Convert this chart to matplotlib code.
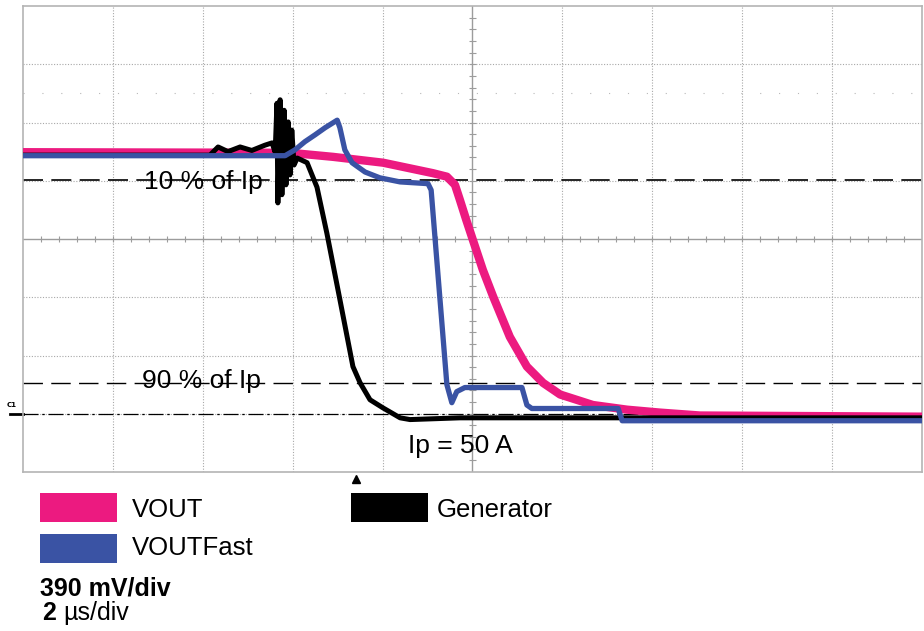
import numpy as np
import matplotlib.pyplot as plt
from matplotlib.patches import Rectangle

# время в мкс (2 мкс/дел), напряжение в делениях над землёй C1 (390 мВ/дел)
vout_t = [0.0, 5.94, 6.90, 8.01, 9.12, 9.43, 9.61, 9.72, 9.86, 10.01, 10.23, 10.46,
          10.83, 11.21, 11.57, 11.95, 12.68, 13.44, 14.17, 15.06, 20.0]
vout_v = [4.49, 4.48, 4.41, 4.31, 4.13, 4.07, 3.93, 3.67, 3.33, 2.98, 2.47, 2.01,
          1.32, 0.81, 0.53, 0.33, 0.15, 0.07, 0.02, -0.03, -0.05]

fast_t = [0.0, 5.83, 6.05, 6.27, 6.50, 6.72, 6.99, 7.05, 7.16, 7.32, 7.61, 7.94, 8.39,
          9.01, 9.08, 9.17, 9.43, 9.54, 9.65, 9.83, 11.10, 11.21, 11.32, 13.24, 13.33, 20.0]
fast_v = [4.43, 4.43, 4.53, 4.67, 4.79, 4.91, 5.04, 4.91, 4.53, 4.31, 4.15, 4.05, 3.98,
          3.95, 3.84, 2.98, 0.50, 0.19, 0.38, 0.45, 0.45, 0.15, 0.09, 0.09, -0.12, -0.12]

gen_t = [0.0, 4.16, 4.34, 4.56, 4.83, 5.09, 5.38, 5.54, 5.61, 5.65, 5.67, 5.72, 5.76,
         5.81, 5.85, 5.90, 5.94, 5.98, 6.03, 6.10, 6.32, 6.54, 6.76, 7.05, 7.34, 7.50,
         7.72, 8.01, 8.39, 8.61, 9.72, 13.28, 20.0]
gen_v = [4.44, 4.44, 4.58, 4.50, 4.58, 4.52, 4.61, 4.65, 4.49, 5.33, 3.62, 5.39, 3.76,
         5.21, 3.93, 5.01, 4.10, 4.87, 4.27, 4.39, 4.31, 3.89, 3.10, 1.96, 0.81, 0.53,
         0.24, 0.10, -0.07, -0.10, -0.07, -0.07, -0.07]

lvl_10 = 4.01   # 10 % of Ip
lvl_90 = 0.53   # 90 % of Ip
trigger_t = 7.41

names = ['VOUT', 'VOUTFast', 'Generator']
colors = ['#ec1a80', '#3a53a4', '#000000']

W, H = 924, 631
fig = plt.figure(figsize=(W / 100, H / 100), dpi=100)
ax = fig.add_axes([23 / W, 1 - 472 / H, 899 / W, 466 / H])
ax.set_xlim(0, 20)
ax.set_ylim(-1, 7)
ax.set_xticks([])
ax.set_yticks([])
for s in ax.spines.values():
    s.set_color('#b4b4b4')
    s.set_linewidth(1.2)

# сетка осциллографа
grid_c = '#a8a8a8'
for x in range(2, 20, 2):
    if x != 10:
        ax.axvline(x, color=grid_c, lw=0.8, ls=(0, (1, 1.5)), zorder=1)
for y in range(0, 7):
    if y != 3:
        ax.axhline(y, color=grid_c, lw=0.8, ls=(0, (1, 1.5)), zorder=1)
ax.axhline(5.5, color='#b8b8b8', lw=0.8, ls=(0, (1, 16)), zorder=1)

ax.axvline(10, color='#9c9c9c', lw=1.0, zorder=1)
ax.axhline(3, color='#9c9c9c', lw=1.0, zorder=1)
ax.vlines(np.arange(0.4, 20, 0.4), 2.94, 3.06, color='#9c9c9c', lw=0.8, zorder=1)
ax.hlines(np.arange(-0.8, 7, 0.2), 9.92, 10.08, color='#9c9c9c', lw=0.8, zorder=1)

# пороги и земля
ax.axhline(lvl_10, color='black', lw=1.2, dashes=(12, 5), zorder=2)
ax.axhline(lvl_90, color='black', lw=1.0, dashes=(14, 6), zorder=2)
ax.axhline(0, color='black', lw=0.9, dashes=(12, 3, 2, 3), zorder=2)

# сигналы
ax.plot(vout_t, vout_v, color=colors[0], lw=6, solid_joinstyle='round', zorder=3)
ax.plot(gen_t, gen_v, color=colors[2], lw=3.6, solid_joinstyle='round', zorder=4)
ax.plot(fast_t, fast_v, color=colors[1], lw=3.8, solid_joinstyle='round', zorder=5)

ax.text(4.02, 3.86, '10 % of Ip', fontsize=19, family='Liberation Sans',
        ha='center', va='baseline', zorder=6)
ax.text(3.97, 0.45, '90 % of Ip', fontsize=19, family='Liberation Sans',
        ha='center', va='baseline', zorder=6)
ax.text(9.72, -0.67, 'Ip = 50 A', fontsize=19, family='Liberation Sans',
        ha='center', va='baseline', zorder=6)

# маркер триггера и метка канала
ax.plot([trigger_t], [-1.12], marker='^', color='black', ms=6, clip_on=False)
ax.plot([-0.3, 0], [0, 0], color='black', lw=2, clip_on=False)
ax.text(-0.25, 0.1, 'C1', fontsize=5, fontweight='bold', ha='center', va='bottom',
        clip_on=False)

# легенда
boxes = [(40, 493), (40, 534), (351, 493)]
label_pos = [(132, 517), (132, 555), (437, 517)]
for (bx, by), (lx, ly), name, c in zip(boxes, label_pos, names, colors):
    fig.add_artist(Rectangle((bx / W, 1 - (by + 29) / H), 77 / W, 29 / H,
                             transform=fig.transFigure, color=c, lw=0))
    fig.text(lx / W, 1 - ly / H, name, fontsize=18.5, family='Liberation Sans',
             va='baseline', ha='left')

fig.text(40 / W, 1 - 595 / H, '390 mV/div', fontsize=18, fontweight='bold',
         family='Liberation Sans', va='baseline')
fig.text(42 / W, 1 - 620 / H, '2', fontsize=18, fontweight='bold',
         family='Liberation Sans', va='baseline')
fig.text(63 / W, 1 - 620 / H, 'µs/div', fontsize=18, family='Liberation Sans',
         va='baseline')

fig.savefig('out.png', dpi=100)
